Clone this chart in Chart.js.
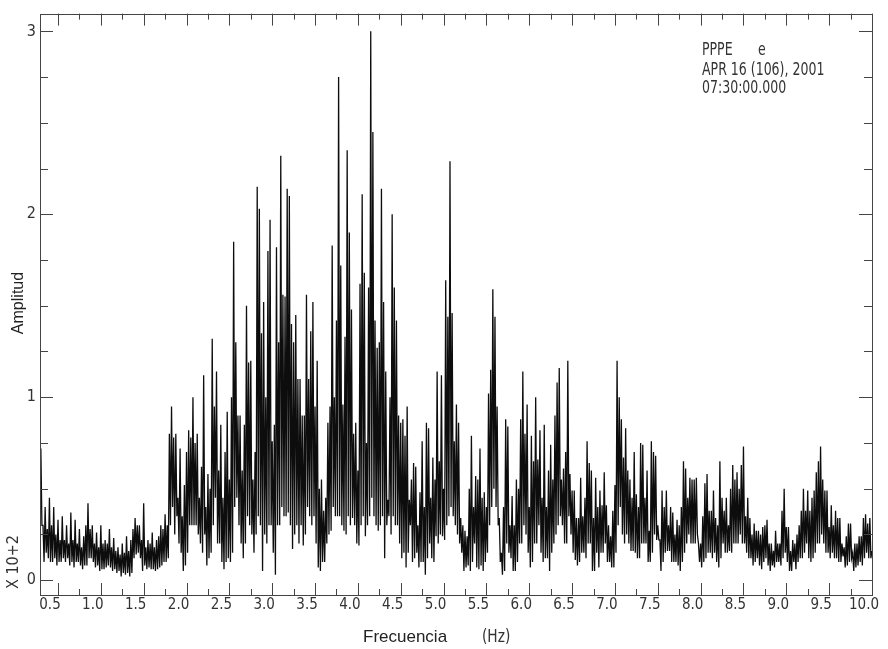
<!DOCTYPE html>
<html>
<head>
<meta charset="utf-8">
<script src="https://cdn.jsdelivr.net/npm/chart.js@4.4.0/dist/chart.umd.min.js"></script>
<style>
  html, body { margin: 0; padding: 0; background: #fff; }
</style>
</head>
<body>
<canvas id="myChart" width="888" height="649"></canvas>
<script>
// frequency grid of the spectrum (Hz); each step holds a peak and, half a step on, a trough
var F_START = 0.30;
var F_STEP = 0.025;

// amplitude (x 10^2) at the tops of the strokes
var pico = [
  0.72, 0.30, 0.40, 0.28, 0.45, 0.30, 0.40, 0.25, 0.33, 0.22, 0.35,
  0.22, 0.30, 0.20, 0.37, 0.22, 0.33, 0.20, 0.28, 0.18, 0.24,
  0.30, 0.42, 0.28, 0.30, 0.20, 0.26, 0.18, 0.30, 0.20, 0.22,
  0.20, 0.28, 0.18, 0.23, 0.16, 0.18, 0.14, 0.20, 0.15, 0.24,
  0.16, 0.22, 0.28, 0.34, 0.30, 0.30, 0.22, 0.42, 0.18, 0.22,
  0.20, 0.26, 0.18, 0.22, 0.24, 0.30, 0.28, 0.36, 0.30, 0.80,
  0.95, 0.78, 0.80, 0.45, 0.72, 0.35, 0.52, 0.70, 0.82, 0.78,
  1.00, 0.75, 0.80, 0.45, 0.62, 1.12, 0.40, 0.58, 0.50, 1.32,
  0.95, 1.14, 0.60, 0.85, 0.45, 0.70, 0.92, 0.55, 1.00, 1.85,
  1.30, 0.90, 0.90, 0.60, 0.85, 1.50, 1.19, 1.20, 0.55, 0.70,
  2.15, 2.03, 1.35, 1.52, 1.00, 1.80, 1.97, 0.76, 0.85, 1.82,
  1.30, 2.32, 1.56, 1.55, 2.14, 2.10, 1.40, 1.30, 1.45, 1.10,
  1.10, 0.90, 0.90, 1.56, 1.10, 1.36, 1.52, 0.95, 1.20, 0.50,
  0.55, 0.38, 0.45, 0.86, 0.95, 1.83, 1.00, 1.42, 2.75, 1.72,
  0.96, 1.33, 2.35, 1.90, 1.48, 0.80, 0.86, 0.60, 1.62, 2.11,
  1.68, 0.75, 1.60, 3.00, 2.45, 1.42, 1.27, 1.30, 2.14, 1.52,
  1.14, 0.44, 1.00, 2.00, 1.60, 1.42, 0.90, 0.86, 0.88, 0.79,
  0.95, 0.44, 0.55, 0.64, 0.62, 0.30, 0.48, 0.76, 0.40, 0.86,
  0.83, 0.45, 0.67, 0.55, 1.14, 0.65, 1.12, 0.50, 1.64, 1.44,
  2.29, 1.46, 0.76, 0.96, 0.86, 0.34, 0.30, 0.27, 0.24, 0.50,
  0.79, 0.40, 0.57, 0.55, 0.72, 0.45, 0.48, 0.40, 1.02, 1.15,
  1.59, 1.44, 0.95, 0.34, 0.15, 0.40, 0.88, 0.84, 0.30, 0.46,
  0.30, 0.55, 0.50, 0.88, 1.14, 0.80, 0.96, 0.40, 0.79, 0.65,
  1.00, 0.66, 0.82, 0.45, 0.85, 0.40, 0.60, 0.74, 0.55, 0.90,
  1.08, 1.16, 0.55, 0.61, 0.70, 1.20, 0.58, 0.49, 0.49, 0.34,
  0.34, 0.56, 0.35, 0.45, 0.76, 0.64, 0.60, 0.34, 0.56, 0.40,
  0.49, 0.41, 0.59, 0.41, 0.30, 0.24, 0.38, 0.52, 1.20, 1.00,
  0.88, 0.67, 0.83, 0.60, 0.55, 0.45, 0.70, 0.47, 0.40, 0.75,
  0.74, 0.45, 0.60, 0.27, 0.76, 0.70, 0.68, 0.30, 0.22, 0.49,
  0.40, 0.49, 0.30, 0.40, 0.37, 0.25, 0.33, 0.30, 0.40, 0.65,
  0.61, 0.45, 0.56, 0.55, 0.55, 0.56, 0.20, 0.20, 0.35, 0.53,
  0.58, 0.38, 0.38, 0.49, 0.34, 0.30, 0.65, 0.45, 0.38, 0.45,
  0.30, 0.50, 0.63, 0.55, 0.59, 0.50, 0.63, 0.73, 0.35, 0.45,
  0.34, 0.25, 0.31, 0.27, 0.27, 0.25, 0.29, 0.30, 0.33, 0.20,
  0.20, 0.16, 0.27, 0.20, 0.20, 0.38, 0.50, 0.29, 0.29, 0.16,
  0.22, 0.20, 0.25, 0.30, 0.38, 0.50, 0.38, 0.49, 0.38, 0.45,
  0.49, 0.59, 0.65, 0.73, 0.55, 0.49, 0.49, 0.29, 0.41, 0.30,
  0.38, 0.34, 0.34, 0.20, 0.18, 0.24, 0.31, 0.31, 0.15, 0.20,
  0.20, 0.24, 0.24, 0.34, 0.36, 0.31, 0.34, 0.16
];

// amplitude (x 10^2) at the bottoms of the strokes, half a step after each peak
var valle = [
  0.30, 0.10, 0.15, 0.12, 0.10, 0.10, 0.12, 0.08, 0.10, 0.10, 0.12,
  0.10, 0.12, 0.08, 0.10, 0.07, 0.10, 0.10, 0.08, 0.06, 0.08,
  0.08, 0.12, 0.12, 0.10, 0.07, 0.08, 0.05, 0.06, 0.06, 0.07,
  0.08, 0.07, 0.05, 0.06, 0.04, 0.05, 0.02, 0.04, 0.03, 0.04,
  0.02, 0.04, 0.12, 0.14, 0.15, 0.12, 0.05, 0.08, 0.06, 0.07,
  0.06, 0.06, 0.05, 0.06, 0.07, 0.08, 0.10, 0.10, 0.12, 0.30,
  0.40, 0.25, 0.35, 0.20, 0.15, 0.05, 0.08, 0.15, 0.30, 0.30,
  0.30, 0.30, 0.25, 0.20, 0.15, 0.25, 0.08, 0.12, 0.15, 0.30,
  0.45, 0.20, 0.20, 0.10, 0.06, 0.10, 0.12, 0.10, 0.15, 0.40,
  0.45, 0.30, 0.20, 0.12, 0.20, 0.35, 0.30, 0.25, 0.15, 0.25,
  0.35, 0.30, 0.05, 0.25, 0.20, 0.30, 0.30, 0.15, 0.03, 0.30,
  0.30, 0.40, 0.35, 0.35, 0.37, 0.30, 0.17, 0.25, 0.30, 0.20,
  0.30, 0.19, 0.25, 0.40, 0.35, 0.30, 0.35, 0.20, 0.07, 0.05,
  0.10, 0.10, 0.20, 0.25, 0.27, 0.40, 0.35, 0.35, 0.35, 0.30,
  0.27, 0.25, 0.35, 0.30, 0.34, 0.30, 0.20, 0.19, 0.30, 0.35,
  0.24, 0.30, 0.35, 0.45, 0.35, 0.30, 0.27, 0.30, 0.35, 0.12,
  0.30, 0.35, 0.25, 0.35, 0.30, 0.30, 0.20, 0.12, 0.15, 0.07,
  0.15, 0.30, 0.10, 0.12, 0.15, 0.07, 0.10, 0.10, 0.03, 0.12,
  0.20, 0.12, 0.10, 0.24, 0.20, 0.25, 0.24, 0.22, 0.30, 0.35,
  0.40, 0.35, 0.30, 0.25, 0.20, 0.15, 0.05, 0.07, 0.08, 0.05,
  0.10, 0.20, 0.07, 0.06, 0.08, 0.05, 0.10, 0.15, 0.30, 0.40,
  0.50, 0.40, 0.30, 0.10, 0.03, 0.05, 0.20, 0.15, 0.12, 0.05,
  0.05, 0.10, 0.20, 0.20, 0.30, 0.25, 0.15, 0.07, 0.10, 0.20,
  0.20, 0.30, 0.15, 0.10, 0.12, 0.12, 0.05, 0.15, 0.20, 0.25,
  0.30, 0.35, 0.30, 0.20, 0.20, 0.35, 0.25, 0.15, 0.11, 0.08,
  0.10, 0.15, 0.15, 0.12, 0.20, 0.20, 0.05, 0.05, 0.15, 0.07,
  0.15, 0.15, 0.20, 0.10, 0.10, 0.07, 0.07, 0.15, 0.30, 0.40,
  0.25, 0.20, 0.25, 0.20, 0.16, 0.16, 0.15, 0.12, 0.12, 0.20,
  0.20, 0.20, 0.10, 0.10, 0.15, 0.25, 0.22, 0.22, 0.05, 0.10,
  0.15, 0.16, 0.16, 0.10, 0.10, 0.10, 0.08, 0.05, 0.10, 0.15,
  0.20, 0.25, 0.20, 0.20, 0.20, 0.25, 0.10, 0.07, 0.10, 0.12,
  0.15, 0.15, 0.12, 0.15, 0.10, 0.07, 0.12, 0.20, 0.15, 0.15,
  0.16, 0.15, 0.20, 0.20, 0.20, 0.25, 0.20, 0.20, 0.15, 0.12,
  0.12, 0.08, 0.10, 0.12, 0.08, 0.06, 0.10, 0.12, 0.08, 0.05,
  0.08, 0.07, 0.10, 0.10, 0.08, 0.12, 0.15, 0.10, 0.05, 0.05,
  0.10, 0.06, 0.10, 0.12, 0.12, 0.15, 0.20, 0.12, 0.10, 0.12,
  0.15, 0.20, 0.20, 0.25, 0.20, 0.15, 0.15, 0.12, 0.15, 0.12,
  0.12, 0.10, 0.10, 0.13, 0.07, 0.08, 0.10, 0.12, 0.05, 0.07,
  0.08, 0.10, 0.08, 0.12, 0.15, 0.12, 0.12, 0.10
];

var xTicks = [0.5, 1.0, 1.5, 2.0, 2.5, 3.0, 3.5, 4.0, 4.5, 5.0, 5.5, 6.0, 6.5, 7.0, 7.5, 8.0, 8.5, 9.0, 9.5, 10.0];
var yTicks = [0, 1, 2, 3];
var header = ['APR 16 (106), 2001', '07:30:00.000'];

var narrow = "'Liberation Sans Narrow', 'Arial Narrow', 'DejaVu Sans Condensed', sans-serif";

var points = [];
pico.forEach(function (p, i) {
  var f = F_START + i * F_STEP;
  points.push({ x: +f.toFixed(4), y: p });
  if (i < pico.length - 1) points.push({ x: +(f + F_STEP / 2).toFixed(4), y: valle[i] });
});

// text squeezed horizontally, the plot's lettering is a narrow one
function narrowText(c, txt, x, y, sx) {
  c.save();
  c.translate(x, y);
  c.scale(sx, 1);
  c.fillText(txt, 0, 0);
  c.restore();
}

// frame, inward tick marks and the loose labels of the plot
var framePlugin = {
  id: 'frame',
  afterDraw: function (chart) {
    var c = chart.ctx, a = chart.chartArea;
    var xs = chart.scales.x, ys = chart.scales.y;
    c.save();
    c.strokeStyle = '#444';
    c.lineWidth = 1;
    c.strokeRect(Math.round(a.left) + 0.5, Math.round(a.top) + 0.5,
                 Math.round(a.right - a.left), Math.round(a.bottom - a.top));
    c.beginPath();
    var k, px, len;
    for (k = 2; k <= 40; k++) {
      px = Math.round(xs.getPixelForValue(k * 0.25)) + 0.5;
      len = (k % 2 === 0) ? 12 : 6;
      c.moveTo(px, a.bottom); c.lineTo(px, a.bottom - len);
      c.moveTo(px, a.top); c.lineTo(px, a.top + len);
    }
    for (k = 0; k <= 12; k++) {
      px = Math.round(ys.getPixelForValue(k * 0.25)) + 0.5;
      len = (k % 4 === 0) ? 13 : 8;
      c.moveTo(a.left, px); c.lineTo(a.left + len, px);
      c.moveTo(a.right, px); c.lineTo(a.right - len, px);
    }
    c.stroke();

    c.fillStyle = '#333';
    c.textBaseline = 'alphabetic';
    c.textAlign = 'left';
    c.font = '17px ' + narrow;
    narrowText(c, 'PPPE', 702, 55, 0.82);
    narrowText(c, 'e', 758, 55, 0.82);
    narrowText(c, header[0], 702, 75, 0.82);
    narrowText(c, header[1], 702, 93, 0.82);
    narrowText(c, '(Hz)', 482, 642, 0.9);

    c.fillStyle = '#222';
    c.font = '17px "Liberation Sans", Arial, sans-serif';
    c.fillText('Frecuencia', 363, 642);

    c.save();
    c.translate(23, 303);
    c.rotate(-Math.PI / 2);
    c.textAlign = 'center';
    c.font = '16px "Liberation Sans", Arial, sans-serif';
    c.fillText('Amplitud', 0, 0);
    c.restore();

    c.save();
    c.translate(18, 562);
    c.rotate(-Math.PI / 2);
    c.textAlign = 'center';
    c.fillStyle = '#333';
    c.font = '16px ' + narrow;
    c.fillText('X 10+2', 0, 0);
    c.restore();
    c.restore();
  }
};

var ctx = document.getElementById('myChart').getContext('2d');
var chart = new Chart(ctx, {
  type: 'line',
  data: {
    datasets: [{
      data: points,
      borderColor: '#0d0d0d',
      borderWidth: 1.3,
      pointRadius: 0,
      fill: false,
      tension: 0
    }]
  },
  options: {
    responsive: false,
    animation: false,
    layout: { padding: { top: 7, right: 15, bottom: 0, left: 0 } },
    plugins: { legend: { display: false }, tooltip: { enabled: false } },
    scales: {
      x: {
        type: 'linear',
        min: 0.29,
        max: 10.0,
        afterBuildTicks: function (s) { s.ticks = xTicks.map(function (v) { return { value: v }; }); },
        afterFit: function (s) { s.height = 54; },
        grid: { display: false, drawTicks: false },
        border: { display: false },
        ticks: {
          autoSkip: false, maxRotation: 0, padding: 1, labelOffset: -8,
          color: '#333', font: { family: narrow, size: 15 },
          callback: function (v) { return Number(v).toFixed(1); }
        }
      },
      y: {
        min: -0.081,
        max: 3.097,
        afterBuildTicks: function (s) { s.ticks = yTicks.map(function (v) { return { value: v }; }); },
        afterFit: function (s) { s.width = 40; },
        grid: { display: false, drawTicks: false },
        border: { display: false },
        ticks: {
          padding: 4, color: '#333', font: { family: narrow, size: 16 },
          callback: function (v) { return String(v); }
        }
      }
    }
  },
  plugins: [framePlugin]
});
</script>
</body>
</html>
